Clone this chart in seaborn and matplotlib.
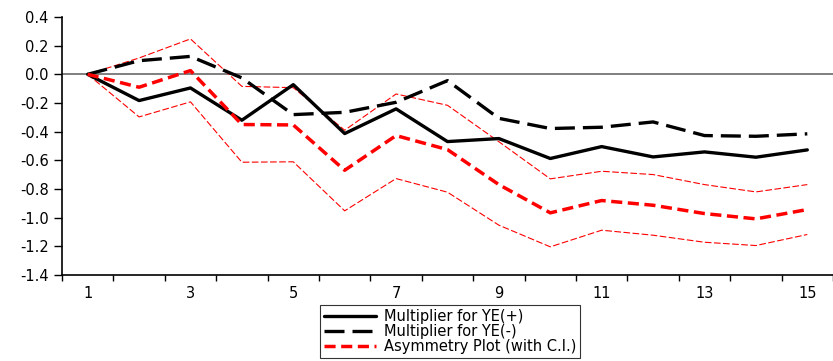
import numpy as np
import pandas as pd
import matplotlib
matplotlib.use("Agg")
import matplotlib.pyplot as plt
import seaborn as sns

# Horizon (periods)
periods = list(range(1, 16))

# Cumulative dynamic multipliers
ye_pos = [0.0, -0.183, -0.095, -0.320, -0.072, -0.413, -0.241, -0.469,
          -0.448, -0.587, -0.504, -0.576, -0.541, -0.578, -0.527]
ye_neg = [0.0, 0.095, 0.125, -0.025, -0.281, -0.265, -0.195, -0.044,
          -0.307, -0.378, -0.369, -0.332, -0.427, -0.432, -0.415]
asym = [0.0, -0.090, 0.026, -0.350, -0.353, -0.669, -0.427, -0.525,
        -0.769, -0.966, -0.880, -0.913, -0.971, -1.008, -0.943]
ci_upper = [0.0, 0.114, 0.247, -0.084, -0.093, -0.390, -0.137, -0.216,
            -0.470, -0.729, -0.676, -0.699, -0.769, -0.820, -0.769]
ci_lower = [0.0, -0.297, -0.192, -0.613, -0.610, -0.952, -0.727, -0.822,
            -1.052, -1.203, -1.087, -1.122, -1.171, -1.194, -1.117]

labels = ["Multiplier for YE(+)", "Multiplier for YE(-)", "Asymmetry Plot (with C.I.)"]
y_ticks = [0.4, 0.2, 0.0, -0.2, -0.4, -0.6, -0.8, -1.0, -1.2, -1.4]
x_labels = [1, 3, 5, 7, 9, 11, 13, 15]

sns.set_theme(style="white")
plt.rcParams["font.family"] = ["DejaVu Sans"]
plt.rcParams["text.color"] = "black"
plt.rcParams["xtick.color"] = "black"
plt.rcParams["ytick.color"] = "black"

fig = plt.figure(figsize=(8.33, 3.61), dpi=100)
ax = fig.add_axes([0.0744, 0.238, 0.9256, 0.715])

ax.axhline(0.0, color="#7f7f7f", lw=1.4, zorder=1)

df = pd.DataFrame({
    "period": periods * 5,
    "value": ye_pos + ye_neg + asym + ci_upper + ci_lower,
    "series": (["pos"] * 15 + ["neg"] * 15 + ["asym"] * 15
               + ["upper"] * 15 + ["lower"] * 15),
})

styles = {
    "upper": dict(color="red", lw=0.8, dashes=(6, 2.2), label="_nolegend_"),
    "lower": dict(color="red", lw=0.8, dashes=(6, 2.2), label="_nolegend_"),
    "pos": dict(color="black", lw=2.4, dashes=(None, None), label=labels[0]),
    "neg": dict(color="black", lw=2.4, dashes=(6, 2.4), label=labels[1]),
    "asym": dict(color="red", lw=2.5, dashes=(3.2, 1.6), label=labels[2]),
}

handles = {}
for key in ["upper", "lower", "pos", "neg", "asym"]:
    st = styles[key]
    sub = df[df["series"] == key]
    sns.lineplot(data=sub, x="period", y="value", ax=ax, color=st["color"],
                 lw=st["lw"], label=st["label"], legend=False, zorder=3)
    line = ax.lines[-1]
    if st["dashes"][0] is not None:
        line.set_dashes(st["dashes"])
    handles[key] = line

ax.set_xlim(0.5, 15.33)
ax.set_ylim(-1.4, 0.4)
ax.set_yticks(y_ticks)
ax.set_yticklabels([f"{v:.1f}" for v in y_ticks])
ax.set_xticks(x_labels)
ax.set_xticklabels([str(v) for v in x_labels])
ax.set_xticks(np.arange(0.5, 15.6, 1.0), minor=True)
ax.tick_params(axis="x", which="major", length=0, pad=8, labelsize=10.5,
               labelcolor="black")
ax.tick_params(axis="x", which="minor", length=4.5, width=1, color="black",
               direction="out", bottom=True)
ax.tick_params(axis="y", length=5.5, width=1, color="black", direction="out",
               left=True, labelsize=10.5, pad=4, labelcolor="black")
ax.set_xlabel("")
ax.set_ylabel("")

for side in ["top", "right"]:
    ax.spines[side].set_visible(False)
for side in ["left", "bottom"]:
    ax.spines[side].set_color("black")
    ax.spines[side].set_linewidth(1.2)

leg = fig.legend([handles["pos"], handles["neg"], handles["asym"]], labels,
                 loc="center", bbox_to_anchor=(0.54, 0.082), ncol=1,
                 frameon=True, fancybox=False, edgecolor="black",
                 fontsize=10.5, handlelength=3.6, labelspacing=0.0,
                 borderpad=0.25, handletextpad=0.5, borderaxespad=0.0)
leg.get_frame().set_linewidth(0.8)
for t in leg.get_texts():
    t.set_color("black")

fig.savefig("out.png", dpi=100)
